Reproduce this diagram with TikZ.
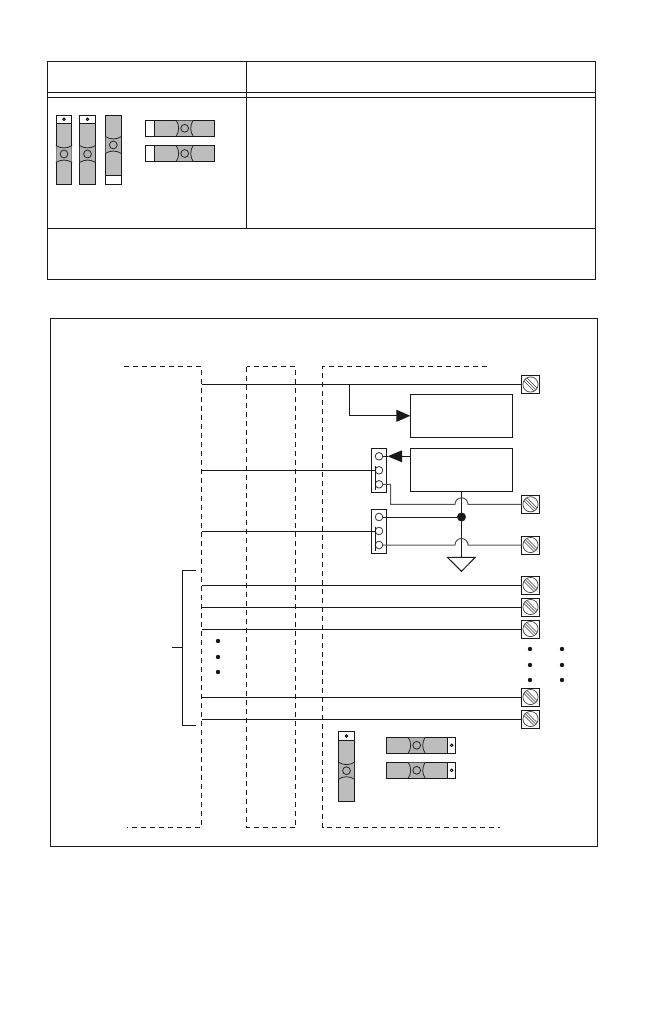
\documentclass[tikz,border=0pt]{standalone}
\usetikzlibrary{arrows.meta}
\definecolor{jgray}{HTML}{BDBDBD}
\definecolor{jdark}{HTML}{B4B4B4}
\definecolor{hopgray}{HTML}{555555}
\tikzset{
  frameline/.style={line width=0.95pt,draw=black!90},
  dashline/.style={line width=0.9pt,draw=black!90,dash pattern=on 5pt off 4pt},
  wire/.style={line width=1pt,draw=black!90},
  graywire/.style={line width=1pt,draw=hopgray},
  box/.style={draw=black!90,line width=1pt,fill=white,inner sep=0pt,outer sep=0pt},
  screwbox/.style={draw=black!90,line width=1pt,fill=white,inner sep=0pt,outer sep=0pt,minimum size=18pt},
  pin/.style={circle,draw=black!80,line width=0.8pt,fill=white,inner sep=0pt,outer sep=0pt,minimum size=7.6pt},
  dot/.style={circle,fill=black!90,inner sep=0pt,outer sep=0pt,minimum size=#1},
  bigtip/.style={-{Triangle[length=14pt,width=12pt]}},
}
% centre x, centre y, rotation
\newcommand\jumpbow[3]{%
  \begin{scope}[shift={(#1,#2)},rotate=#3]
    \fill[jdark] (-7.6,-8.2) .. controls (-3,-5.2) and (3,-5.2) .. (7.6,-8.2) -- (7.6,8.2) .. controls (3,5.2) and (-3,5.2) .. (-7.6,8.2) -- cycle;
    \draw[line width=0.8pt,black!85] (-8.2,-8.6) .. controls (-3,-5.2) and (3,-5.2) .. (8.2,-8.6);
    \draw[line width=0.8pt,black!85] (-8.2,8.6) .. controls (-3,5.2) and (3,5.2) .. (8.2,8.6);
    \draw[line width=0.8pt,black!85] (0,0) circle[radius=3.9pt];
  \end{scope}}
% vertical strip: x1 x2 ytop capend ybottom bowy
\newcommand\vstrip[6]{%
  \filldraw[fill=jgray,draw=black!90,line width=1pt] (#1,#3) rectangle (#2,#5);
  \filldraw[fill=white,draw=black!90,line width=1pt] (#1,#3) rectangle (#2,#4);
  \jumpbow{#1/2+#2/2}{#6}{0}}
% horizontal strip: x1 x2 y1 y2 whiteLeft..whiteRight bowx
\newcommand\hstrip[7]{%
  \filldraw[fill=jgray,draw=black!90,line width=1pt] (#1,#3) rectangle (#2,#4);
  \filldraw[fill=white,draw=black!90,line width=1pt] (#5,#3) rectangle (#6,#4);
  \jumpbow{#7}{#3/2+#4/2}{90}}
\newcommand\capmark[2]{\draw[line width=0.9pt,black] (#1,#2) circle[radius=1.3pt];}
\newcommand\screw[3]{%
  \node[screwbox] (#1) at (#2,#3) {};
  \begin{scope}[shift={(#2,#3)}]
    \draw[line width=0.7pt,black!75] (0,0) circle[radius=7.6pt];
    \draw[line width=0.6pt,black!75] (-6.4,-3.4) -- (3.4,6.4) (-3.4,-6.4) -- (6.4,3.4) (-5.2,-5.2) -- (5.2,5.2);
  \end{scope}}
\begin{document}
\begin{tikzpicture}[x=1pt,y=-1pt]
\useasboundingbox (0,0) rectangle (648,1032);
% ---- table
\draw[frameline] (47.5,61.5) rectangle (595,279);
\draw[frameline] (47.5,92.5) -- (595,92.5);
\draw[frameline] (47.5,97.5) -- (595,97.5);
\draw[frameline] (47.5,228) -- (595,228);
\draw[frameline] (246.5,61.5) -- (246.5,228);
\vstrip{56.3}{71.7}{115.3}{123.3}{184.3}{154}
\capmark{64}{119.3}
\vstrip{79.3}{95.7}{115.3}{123.3}{184.3}{154}
\capmark{87.5}{119.3}
\filldraw[fill=white,draw=black!90,line width=1pt] (105.3,115.3) rectangle (121.3,184.3);
\filldraw[fill=jgray,draw=black!90,line width=1pt] (105.3,115.3) rectangle (121.3,175.3);
\jumpbow{113.3}{145}{0}
\hstrip{145.3}{214.7}{120.3}{136.3}{145.3}{154.3}{184.7}
\hstrip{145.3}{214.7}{145.3}{161.7}{145.3}{154.3}{184.7}
% ---- frame
\draw[frameline] (50.8,318) rectangle (597.5,846.5);
% ---- dashed regions
\coordinate (busL) at (201.5,366.5);
\draw[dashline] (124,366.5) -- (busL) -- (201.5,827.5) -- (127,827.5);
\draw[dashline] (246.5,366.5) rectangle (295.5,827.5);
\draw[dashline] (487,366.5) -- (322.5,366.5) -- (322.5,827.5) -- (500,827.5);
% ---- screws
\screw{s1}{530.5}{384.5}
\screw{s2}{530.5}{504.3}
\screw{s3}{530.5}{545}
\screw{s4}{530.5}{585}
\screw{s5}{530.5}{607}
\screw{s6}{530.5}{629}
\screw{s7}{530.5}{697}
\screw{s8}{530.5}{719}
% ---- boxes
\node[box,minimum width=102.4pt,minimum height=43pt] (b1) at (461.5,415.8) {};
\node[box,minimum width=102.4pt,minimum height=42.6pt] (b2) at (461.5,470) {};
\node[box,minimum width=15.4pt,minimum height=43.6pt] (k1) at (379,470.5) {};
\node[box,minimum width=15.4pt,minimum height=44pt] (k2) at (379,531.3) {};
\node[pin] (p1) at (379,456.3) {};
\node[pin] (p2) at (379,470.3) {};
\node[pin] (p3) at (379,484.3) {};
\node[pin] (p4) at (379,517) {};
\node[pin] (p5) at (379,531) {};
\node[pin] (p6) at (379,545) {};
\node[dot=9pt] (jn) at (461.5,517) {};
\coordinate (gnd) at (461.5,557.3);
\coordinate (t1) at (349.5,384.5);
\coordinate (c1) at (375.5,470.3);
\coordinate (c2) at (375.5,531);
% ---- wires
\draw[wire] (s1.west) -- (s1.west -| busL);
\draw[wire,bigtip] (t1) |- (b1.west);
\draw[wire] (busL |- c1) -- (c1);
\draw[wire] (375.5,465.7) -- (375.5,490.3);
\draw[wire] (busL |- c2) -- (c2);
\draw[wire] (375.5,526.5) -- (375.5,551);
\draw[wire] (b2.west |- p1) -- (402,456.3);
\fill[black!90] (387.7,456.3) -- (402,450.3) -- (402,462.3) -- cycle;
\draw[wire] (387.7,456.3) -- (p1.east);
\draw[wire] (b2.south -| jn) -- (gnd);
\draw[wire] (p4.east) -- (jn);
\draw[graywire] (p3.east) -- (390.7,484.3) -- (390.7,504.3) -- (455,504.3) arc[start angle=180,end angle=0,radius=6.5pt] -- (s2.west);
\draw[graywire] (p6.east) -- (455,545) arc[start angle=180,end angle=0,radius=6.5pt] -- (s3.west);
\draw[wire] (447.3,557.3) -- (475.3,557.3) -- (461.5,571.3) -- cycle;
% ---- bus wires
\draw[wire] (s4.west) -- (s4.west -| busL);
\draw[wire] (s5.west) -- (s5.west -| busL);
\draw[wire] (s6.west) -- (s6.west -| busL);
\draw[wire] (s7.west) -- (s7.west -| busL);
\draw[wire] (s8.west) -- (s8.west -| busL);
% ---- bracket
\draw[wire] (195.7,570.3) -- (182.3,570.3) -- (182.3,725) -- (195.7,725);
\draw[wire] (172.3,647.3) -- (182.3,647.3);
% ---- dots
\foreach \x/\ys in {218/{641,657,672},530/{649,665,680},562/{649,665,680}}
  \foreach \y in \ys { \fill[black!90] (\x,\y) circle[radius=2.2pt]; }
% ---- lower jumpers
\vstrip{338.3}{354.7}{731.7}{740.7}{801.3}{770.7}
\capmark{346.5}{736}
\hstrip{386.3}{455.7}{737.3}{753.3}{447.7}{455.7}{416.7}
\capmark{451.7}{745.3}
\hstrip{386.3}{455.7}{762.3}{778.3}{447.7}{455.7}{416.7}
\capmark{451.7}{770.3}
\end{tikzpicture}
\end{document}
